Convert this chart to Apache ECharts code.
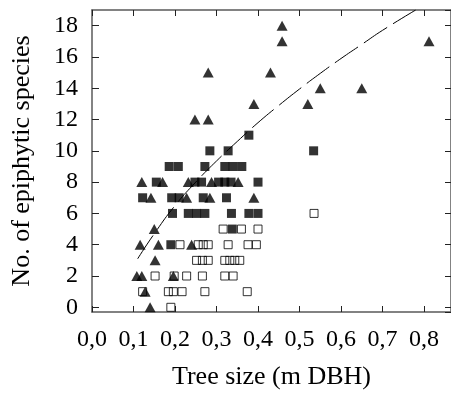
<!DOCTYPE html>
<html><head><meta charset="utf-8">
<script src="https://cdn.jsdelivr.net/npm/echarts@6/dist/echarts.min.js"></script>
<style>html,body{margin:0;padding:0;background:#fff}#c{width:451px;height:396px}</style>
</head><body><div id="c"></div>
<script>
// Filled triangles [tree size (m DBH), no. of epiphytic species]
var triangles = [
  [0.458,18],[0.458,17],[0.28,15],[0.43,15],[0.39,13],[0.52,13],[0.812,17],[0.55,14],[0.65,14],
  [0.248,12],[0.28,12],
  [0.12,8],[0.17,8],[0.232,8],[0.288,8],[0.352,8],
  [0.142,7],[0.228,7],[0.284,7],[0.39,7],
  [0.15,5],
  [0.116,4],[0.16,4],[0.24,4],
  [0.152,3],
  [0.108,2],[0.12,2],[0.196,2],
  [0.128,1],
  [0.14,0]
];
// Filled squares
var filledSquares = [
  [0.378,11],[0.284,10],[0.328,10],[0.534,10],
  [0.186,9],[0.208,9],[0.272,9],[0.32,9],[0.34,9],[0.361,9],
  [0.155,8],[0.248,8],[0.264,8],[0.305,8],[0.32,8],[0.335,8],[0.40,8],
  [0.122,7],[0.192,7],[0.21,7],[0.268,7],[0.324,7],
  [0.194,6],[0.232,6],[0.252,6],[0.272,6],[0.336,6],[0.378,6],[0.40,6],
  [0.338,5],
  [0.19,4]
];
// Open squares
var openSquares = [
  [0.535,6],
  [0.316,5],[0.36,5],[0.40,5],
  [0.212,4],[0.256,4],[0.268,4],[0.28,4],[0.328,4],[0.376,4],[0.396,4],
  [0.252,3],[0.266,3],[0.28,3],[0.32,3],[0.332,3],[0.344,3],[0.356,3],
  [0.152,2],[0.198,2],[0.228,2],[0.266,2],[0.32,2],[0.34,2],
  [0.122,1],[0.184,1],[0.196,1],[0.217,1],[0.272,1],[0.374,1],
  [0.19,0]
];
// Fitted curve, points
var fitCurve = [
  [0.11,3.1],[0.15,4.7],[0.2,6.5],[0.25,8.0],[0.3,9.35],[0.35,10.6],[0.4,11.8],
  [0.45,12.9],[0.5,13.95],[0.55,14.95],[0.6,15.9],[0.65,16.8],[0.7,17.7],[0.78,19.0]
];
var xTitle = 'Tree size (m DBH)';
var yTitle = 'No. of epiphytic species';

var FONT = 'Liberation Serif';
var axisLineStyle = {color:'#5a5a5a', width:1.5};
var tickStyle = {color:'#222', width:1};
function isMult(v, step){ var r = v/step; return Math.abs(r - Math.round(r)) < 1e-6; }

var chart = echarts.init(document.getElementById('c'), null, {renderer:'canvas'});
chart.setOption({
  animation:false,
  backgroundColor:'#fff',
  grid:{left:92, right:-1, top:10, bottom:84, containLabel:false},
  xAxis:[{
    type:'value', min:0, max:0.865, splitNumber:9, position:'bottom',
    name:xTitle, nameLocation:'middle', nameGap:52,
    nameTextStyle:{fontFamily:FONT, fontSize:26, color:'#000'},
    axisLine:{show:true, onZero:false, lineStyle:axisLineStyle},
    axisTick:{show:true, inside:true, length:6, lineStyle:tickStyle},
    axisLabel:{margin:16, fontFamily:FONT, fontSize:24, color:'#000', showMaxLabel:false,
      formatter:function(v){ return isMult(v,0.1) ? v.toFixed(1).replace('.',',') : ''; }},
    splitLine:{show:false}
  },{
    type:'value', min:0, max:0.865, splitNumber:9, position:'top',
    axisLine:{show:true, onZero:false, lineStyle:axisLineStyle},
    axisTick:{show:true, inside:true, length:6, lineStyle:tickStyle},
    axisLabel:{show:false}, splitLine:{show:false}
  }],
  yAxis:[{
    type:'value', min:-0.3, max:19, splitNumber:10, position:'left',
    name:yTitle, nameLocation:'middle', nameGap:57, nameRotate:90,
    nameTextStyle:{fontFamily:FONT, fontSize:26, color:'#000'},
    axisLine:{show:true, onZero:false, lineStyle:axisLineStyle},
    axisTick:{show:true, inside:true, length:7, lineStyle:tickStyle},
    axisLabel:{margin:14, fontFamily:FONT, fontSize:24, color:'#000', showMinLabel:false, showMaxLabel:false,
      formatter:function(v){ return isMult(v,2) && v>=0 ? String(Math.round(v)) : ''; }},
    splitLine:{show:false}
  },{
    type:'value', min:-0.3, max:19, splitNumber:10, position:'right',
    axisLine:{show:true, onZero:false, lineStyle:axisLineStyle},
    axisTick:{show:true, inside:true, length:6, lineStyle:tickStyle},
    axisLabel:{show:false}, splitLine:{show:false}
  }],
  series:[
    {type:'scatter', name:'open', data:openSquares, symbol:'rect', symbolSize:8,
     itemStyle:{color:'rgba(0,0,0,0)', borderColor:'#000', borderWidth:1}, z:2},
    {type:'scatter', name:'filled', data:filledSquares, symbol:'rect', symbolSize:9,
     itemStyle:{color:'#000'}, z:3},
    {type:'scatter', name:'tri', data:triangles, symbol:'triangle', symbolSize:[11,10],
     itemStyle:{color:'#000'}, z:4},
    {type:'line', name:'fit', data:fitCurve, smooth:true, symbol:'none', z:5,
     lineStyle:{color:'#000', width:1, type:[28,7]}}
  ]
});
</script></body></html>
